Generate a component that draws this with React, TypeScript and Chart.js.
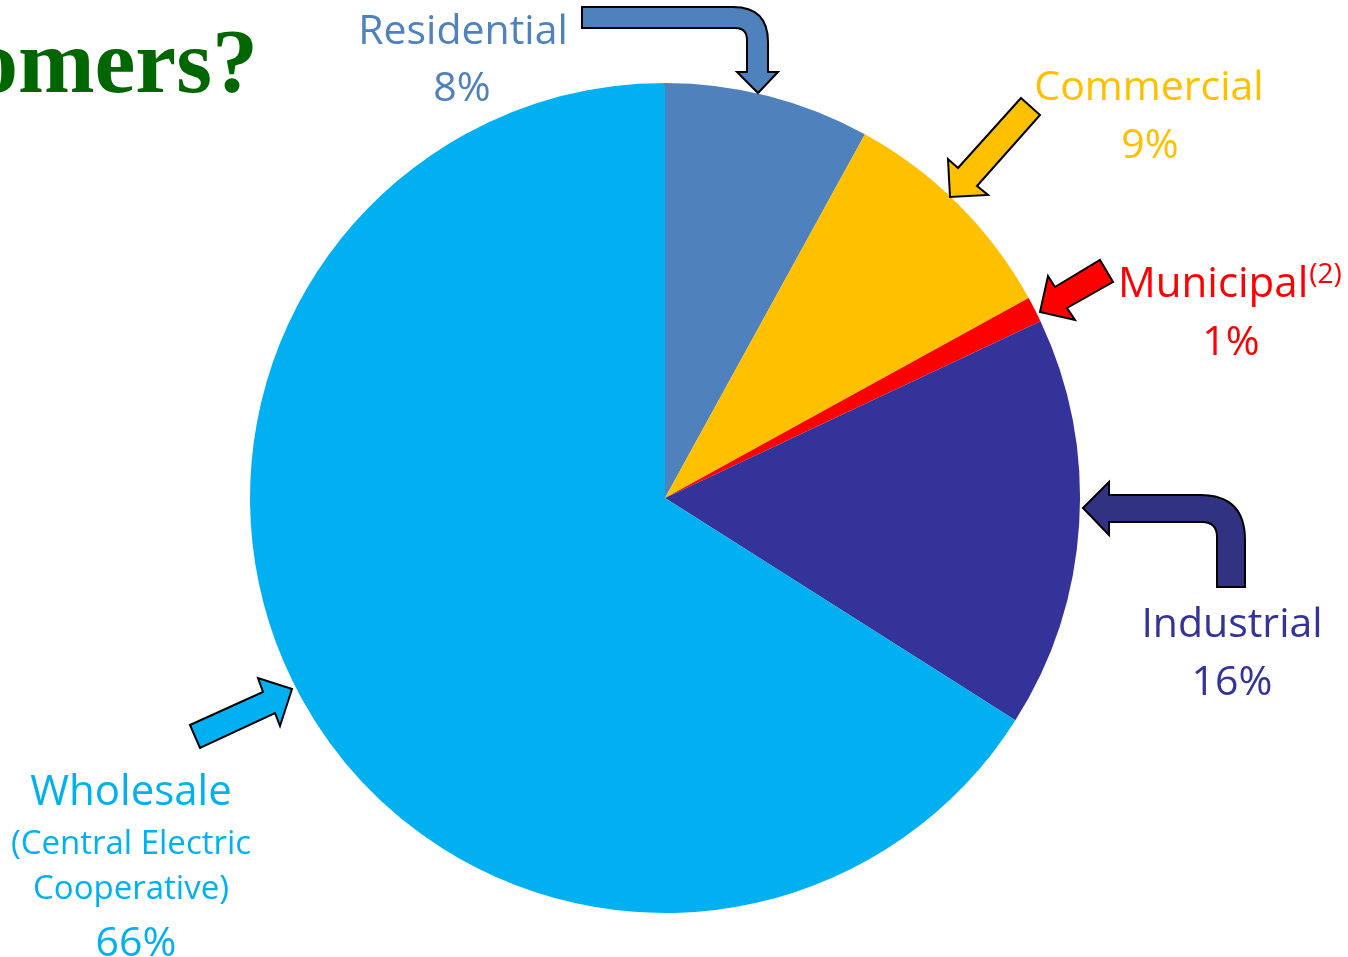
import React, { useEffect, useRef } from "react";
import { Chart, registerables } from "chart.js";

Chart.register(...registerables);

const categories = ["Residential", "Commercial", "Municipal", "Industrial", "Wholesale"];
const shares = [8, 9, 1, 16, 66];
const sliceColors = ["#4F81BD", "#FFC000", "#FF0000", "#333399", "#00B0F0"];
const arrowColors = ["#4F81BD", "#FFC000", "#FF0000", "#323283", "#00B0F0"];
const titleText = "omers?";

const FONT = "'Open Sans', 'Noto Sans', sans-serif";

const annotations = {
  id: "annotations",
  afterDraw(chart: any) {
    const ctx = chart.ctx as CanvasRenderingContext2D;
    ctx.save();

    // Title fragment
    ctx.font = `bold 92px 'Liberation Serif', serif`;
    ctx.fillStyle = "#006600";
    ctx.textAlign = "right";
    ctx.textBaseline = "alphabetic";
    ctx.fillText(titleText, 258, 92);

    const pct = (i: number) => `${shares[i]}%`;
    const text = (s: string, x: number, y: number, size: number, color: string, align: CanvasTextAlign = "center") => {
      ctx.font = `${size}px ${FONT}`;
      ctx.fillStyle = color;
      ctx.textAlign = align;
      ctx.fillText(s, x, y);
    };

    // Residential
    text(categories[0], 463, 44, 41, sliceColors[0]);
    text(pct(0), 462, 101, 41, sliceColors[0]);
    // Commercial
    text(categories[1], 1149, 100, 41, sliceColors[1]);
    text(pct(1), 1150, 158, 41, sliceColors[1]);
    // Municipal
    text(categories[2], 1118, 297, 42, sliceColors[2], "left");
    ctx.font = `42px ${FONT}`;
    const mw = ctx.measureText(categories[2]).width;
    text("(2)", 1118 + mw + 1, 283, 28, sliceColors[2], "left");
    text(pct(2), 1231, 355, 41, sliceColors[2]);
    // Industrial
    text(categories[3], 1232, 637, 41, sliceColors[3]);
    text(pct(3), 1232, 695, 41, sliceColors[3]);
    // Wholesale
    text(categories[4], 131, 805, 42, sliceColors[4]);
    text("(Central Electric", 131, 854, 33, sliceColors[4]);
    text("Cooperative)", 131, 899, 33, sliceColors[4]);
    text(pct(4), 136, 956, 41, sliceColors[4]);

    // Arrows
    ctx.lineWidth = 2;
    ctx.strokeStyle = "#000000";
    ctx.lineJoin = "miter";

    const poly = (pts: number[][], color: string) => {
      ctx.beginPath();
      ctx.moveTo(pts[0][0], pts[0][1]);
      for (let i = 1; i < pts.length; i++) ctx.lineTo(pts[i][0], pts[i][1]);
      ctx.closePath();
      ctx.fillStyle = color;
      ctx.fill();
      ctx.stroke();
    };

    // Residential bent arrow
    ctx.beginPath();
    ctx.moveTo(582, 7);
    ctx.lineTo(733, 7);
    ctx.quadraticCurveTo(768, 7, 768, 42);
    ctx.lineTo(768, 72);
    ctx.lineTo(778, 72);
    ctx.lineTo(758, 93);
    ctx.lineTo(737, 72);
    ctx.lineTo(747, 72);
    ctx.lineTo(747, 40);
    ctx.quadraticCurveTo(747, 28, 735, 28);
    ctx.lineTo(582, 28);
    ctx.closePath();
    ctx.fillStyle = arrowColors[0];
    ctx.fill();
    ctx.stroke();

    // Commercial
    poly([[1021, 98], [1040, 115], [977, 186], [988, 195], [950, 197], [948, 159], [958, 168]], arrowColors[1]);
    // Municipal
    poly([[1100, 260], [1113, 282], [1067, 308], [1075, 320], [1040, 312], [1048, 276], [1055, 287]], arrowColors[2]);

    // Industrial bent arrow
    ctx.beginPath();
    ctx.moveTo(1083, 508);
    ctx.lineTo(1109, 482);
    ctx.lineTo(1109, 495);
    ctx.lineTo(1200, 495);
    ctx.quadraticCurveTo(1245, 495, 1245, 540);
    ctx.lineTo(1245, 587);
    ctx.lineTo(1217, 587);
    ctx.lineTo(1217, 537);
    ctx.quadraticCurveTo(1217, 522, 1202, 522);
    ctx.lineTo(1109, 522);
    ctx.lineTo(1109, 535);
    ctx.closePath();
    ctx.fillStyle = arrowColors[3];
    ctx.fill();
    ctx.stroke();

    // Wholesale
    poly([[190, 725], [263, 692], [258, 678], [292, 689], [280, 726], [275, 713], [200, 748]], arrowColors[4]);

    ctx.restore();
  },
};

export default function App() {
  const ref = useRef<HTMLCanvasElement | null>(null);

  useEffect(() => {
    document.body.style.margin = "0";
    document.body.style.background = "#ffffff";
    const canvas = ref.current;
    if (!canvas) return;
    const chart = new Chart(canvas, {
      type: "pie",
      data: {
        labels: categories,
        datasets: [
          {
            data: shares,
            backgroundColor: sliceColors,
            borderWidth: 0,
          },
        ],
      },
      options: {
        animation: false,
        responsive: false,
        devicePixelRatio: 1,
        layout: { padding: { left: 250, right: 268, top: 83, bottom: 44 } },
        plugins: {
          legend: { display: false },
          tooltip: { enabled: false },
        },
      },
      plugins: [annotations],
    });
    return () => chart.destroy();
  }, []);

  return (
    <div style={{ width: 1348, height: 957, background: "#fff" }}>
      <canvas ref={ref} width={1348} height={957} style={{ display: "block" }} />
    </div>
  );
}
